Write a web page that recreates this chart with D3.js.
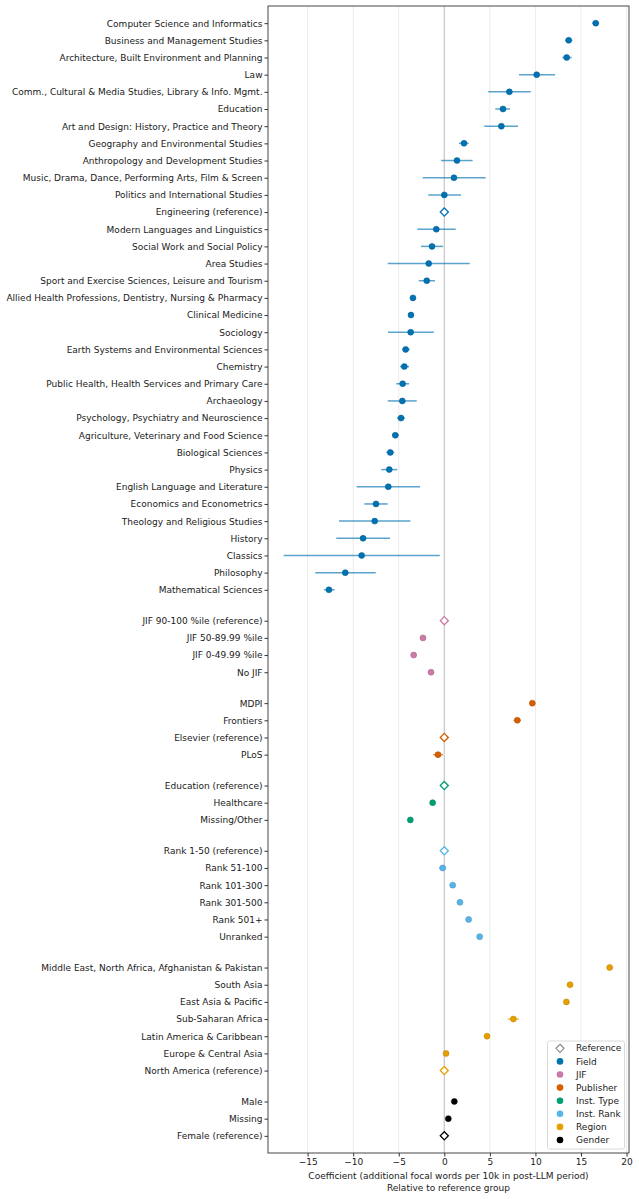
<!DOCTYPE html>
<html>
<head>
<meta charset="utf-8">
<script src="https://cdn.jsdelivr.net/npm/d3@7"></script>
<style>
  body { margin: 0; background: #fff; }
  text { font-family: "DejaVu Sans", sans-serif; }
</style>
</head>
<body>
<div id="chart"></div>
<script>
// --- data (null CI = reference category) ---
const fieldLabels = [
  "Computer Science and Informatics", "Business and Management Studies",
  "Architecture, Built Environment and Planning", "Law",
  "Comm., Cultural & Media Studies, Library & Info. Mgmt.", "Education",
  "Art and Design: History, Practice and Theory", "Geography and Environmental Studies",
  "Anthropology and Development Studies", "Music, Drama, Dance, Performing Arts, Film & Screen",
  "Politics and International Studies", "Engineering (reference)",
  "Modern Languages and Linguistics", "Social Work and Social Policy", "Area Studies",
  "Sport and Exercise Sciences, Leisure and Tourism",
  "Allied Health Professions, Dentistry, Nursing & Pharmacy", "Clinical Medicine",
  "Sociology", "Earth Systems and Environmental Sciences", "Chemistry",
  "Public Health, Health Services and Primary Care", "Archaeology",
  "Psychology, Psychiatry and Neuroscience", "Agriculture, Veterinary and Food Science",
  "Biological Sciences", "Physics", "English Language and Literature",
  "Economics and Econometrics", "Theology and Religious Studies", "History",
  "Classics", "Philosophy", "Mathematical Sciences"
];
const fieldEst = [16.62, 13.65, 13.43, 10.14, 7.14, 6.44, 6.26, 2.16, 1.39, 1.06, 0.0, 0,
  -0.88, -1.35, -1.71, -1.93, -3.44, -3.66, -3.69, -4.24, -4.39, -4.57, -4.61,
  -4.75, -5.38, -5.93, -6.04, -6.15, -7.5, -7.64, -8.92, -9.07, -10.87, -12.66];
const fieldLo = [16.25, 13.28, 12.95, 8.2, 4.83, 5.6, 4.39, 1.61, -0.36, -2.37, -1.76, null,
  -2.96, -2.56, -6.21, -2.81, -3.7, -3.9, -6.18, -4.64, -4.86, -5.27, -6.21,
  -5.19, -5.71, -6.37, -6.92, -9.62, -8.78, -11.56, -11.86, -17.63, -14.16, -13.21];
const fieldHi = [16.98, 14.05, 13.98, 12.15, 9.48, 7.21, 8.09, 2.67, 3.11, 4.54, 1.83, null,
  1.25, -0.14, 2.79, -1.02, -3.18, -3.4, -1.16, -3.8, -3.87, -3.87, -3.03,
  -4.31, -5.0, -5.49, -5.16, -2.67, -6.21, -3.73, -5.96, -0.5, -7.53, -12.03];

const jifLabels = ["JIF 90-100 %ile (reference)", "JIF 50-89.99 %ile", "JIF 0-49.99 %ile", "No JIF"];
const jifEst = [0, -2.34, -3.36, -1.46];
const jifLo = [null, -2.5, -3.55, -1.65];
const jifHi = [null, -2.18, -3.17, -1.27];

const pubLabels = ["MDPI", "Frontiers", "Elsevier (reference)", "PLoS"];
const pubEst = [9.66, 8.01, 0, -0.69];
const pubLo = [9.5, 7.6, null, -1.24];
const pubHi = [9.82, 8.42, null, -0.14];

const typeLabels = ["Education (reference)", "Healthcare", "Missing/Other"];
const typeEst = [0, -1.28, -3.73];
const typeLo = [null, -1.5, -3.88];
const typeHi = [null, -1.06, -3.58];

const rankLabels = ["Rank 1-50 (reference)", "Rank 51-100", "Rank 101-300", "Rank 301-500", "Rank 501+", "Unranked"];
const rankEst = [0, -0.18, 0.92, 1.72, 2.67, 3.88];
const rankLo = [null, -0.58, 0.67, 1.5, 2.42, 3.66];
const rankHi = [null, 0.22, 1.17, 1.94, 2.92, 4.1];

const regionLabels = ["Middle East, North Africa, Afghanistan & Pakistan", "South Asia", "East Asia & Pacific",
  "Sub-Saharan Africa", "Latin America & Caribbean", "Europe & Central Asia", "North America (reference)"];
const regionEst = [18.15, 13.8, 13.4, 7.58, 4.69, 0.19, 0];
const regionLo = [17.85, 13.5, 13.25, 6.95, 4.39, 0.07, null];
const regionHi = [18.45, 14.1, 13.55, 8.2, 4.99, 0.31, null];

const genderLabels = ["Male", "Missing", "Female (reference)"];
const genderEst = [1.1, 0.44, 0];
const genderLo = [1.0, 0.34, null];
const genderHi = [1.2, 0.54, null];

const groupNames = ["Field", "JIF", "Publisher", "Inst. Type", "Inst. Rank", "Region", "Gender"];
const groupColors = ["#0072B2", "#CC79A7", "#D55E00", "#009E73", "#56B4E9", "#E69F00", "#000000"];
const xTicks = [-15, -10, -5, 0, 5, 10, 15, 20];

const groups = [
  [fieldLabels, fieldEst, fieldLo, fieldHi],
  [jifLabels, jifEst, jifLo, jifHi],
  [pubLabels, pubEst, pubLo, pubHi],
  [typeLabels, typeEst, typeLo, typeHi],
  [rankLabels, rankEst, rankLo, rankHi],
  [regionLabels, regionEst, regionLo, regionHi],
  [genderLabels, genderEst, genderLo, genderHi]
];

// flatten rows, adding a 0.8 gap between groups
const rows = [];
let k = 0;
groups.forEach((grp, gi) => {
  grp[0].forEach((lab, i) => {
    rows.push({ label: lab, est: grp[1][i], lo: grp[2][i], hi: grp[3][i],
      ref: grp[2][i] === null, group: gi, pos: k + gi * 0.8 });
    k++;
  });
});

const W = 639, H = 1199;
const margin = { top: 6, right: 10, bottom: 46, left: 268 };

const svg = d3.select("#chart").append("svg")
  .attr("width", W).attr("height", H);

const x = d3.scaleLinear().domain([-19.35, 20.27]).range([margin.left, W - margin.right]);
const lastPos = d3.max(rows, d => d.pos);
const y = d3.scaleLinear().domain([-1, lastPos + 1]).range([margin.top, H - margin.bottom]);

// grid
svg.append("g").selectAll("line").data(xTicks).join("line")
  .attr("x1", d => x(d)).attr("x2", d => x(d))
  .attr("y1", margin.top).attr("y2", H - margin.bottom)
  .attr("stroke", "#e6e6e6").attr("stroke-width", 0.8);

// zero line
svg.append("line")
  .attr("x1", x(0)).attr("x2", x(0))
  .attr("y1", margin.top).attr("y2", H - margin.bottom)
  .attr("stroke", "#c8c8c8").attr("stroke-width", 1.2);

// error bars
svg.append("g").selectAll("line").data(rows.filter(d => !d.ref)).join("line")
  .attr("x1", d => x(d.lo)).attr("x2", d => x(d.hi))
  .attr("y1", d => y(d.pos)).attr("y2", d => y(d.pos))
  .attr("stroke", d => groupColors[d.group])
  .attr("stroke-opacity", 0.65)
  .attr("stroke-width", 1.5);

// points
svg.append("g").selectAll("circle").data(rows.filter(d => !d.ref)).join("circle")
  .attr("cx", d => x(d.est)).attr("cy", d => y(d.pos))
  .attr("r", 3)
  .attr("fill", d => groupColors[d.group])
  .attr("stroke", d => d3.color(groupColors[d.group]).darker(0.6))
  .attr("stroke-width", 0.5);

// reference diamonds
const diamond = d3.symbol().type(d3.symbolDiamond2).size(42);
svg.append("g").selectAll("path").data(rows.filter(d => d.ref)).join("path")
  .attr("d", diamond)
  .attr("transform", d => `translate(${x(d.est)},${y(d.pos)})`)
  .attr("fill", "#fff")
  .attr("stroke", d => groupColors[d.group])
  .attr("stroke-width", 1.3);

// axes
const xAxis = d3.axisBottom(x).tickValues(xTicks).tickSize(3.5).tickPadding(2)
  .tickFormat(d => d < 0 ? "\u2212" + Math.abs(d) : d);
const gx = svg.append("g").attr("transform", `translate(0,${H - margin.bottom})`).call(xAxis);
gx.select(".domain").remove();
gx.selectAll("text").attr("font-size", 9).attr("fill", "#1a1a1a").attr("font-family", "DejaVu Sans");
gx.selectAll("line").attr("stroke", "#333");

const yAxis = d3.axisLeft(y).tickValues(rows.map(d => d.pos)).tickSize(3.5).tickPadding(2)
  .tickFormat((d, i) => rows[i].label);
const gy = svg.append("g").attr("transform", `translate(${margin.left},0)`).call(yAxis);
gy.select(".domain").remove();
gy.selectAll("text").attr("font-size", 9).attr("fill", "#1a1a1a").attr("font-family", "DejaVu Sans");
gy.selectAll("line").attr("stroke", "#333");

// frame
svg.append("rect")
  .attr("x", margin.left).attr("y", margin.top)
  .attr("width", W - margin.right - margin.left)
  .attr("height", H - margin.bottom - margin.top)
  .attr("fill", "none").attr("stroke", "#333").attr("stroke-width", 0.9);

// x label
const cx = (margin.left + W - margin.right) / 2;
svg.append("text").attr("x", cx).attr("y", 1179)
  .attr("text-anchor", "middle").attr("font-size", 9).attr("fill", "#1a1a1a")
  .text("Coefficient (additional focal words per 10k in post-LLM period)");
svg.append("text").attr("x", cx).attr("y", 1190.5)
  .attr("text-anchor", "middle").attr("font-size", 9).attr("fill", "#1a1a1a")
  .text("Relative to reference group");

// legend
const leg = svg.append("g");
leg.append("rect")
  .attr("x", 547.5).attr("y", 1041).attr("width", 77).attr("height", 108)
  .attr("rx", 2).attr("fill", "#fff").attr("fill-opacity", 0.85)
  .attr("stroke", "#d0d0d0").attr("stroke-width", 0.8);
const legItems = [{ name: "Reference", color: null }].concat(
  groupNames.map((n, i) => ({ name: n, color: groupColors[i] })));
const ly = d3.scaleLinear().domain([0, 7]).range([1048.3, 1140]);
legItems.forEach((d, i) => {
  const yy = ly(i);
  if (d.color === null) {
    leg.append("path").attr("d", diamond)
      .attr("transform", `translate(560,${yy})`)
      .attr("fill", "#fff").attr("stroke", "#888").attr("stroke-width", 1.1);
  } else {
    leg.append("circle").attr("cx", 560).attr("cy", yy).attr("r", 3.3)
      .attr("fill", d.color);
  }
  leg.append("text").attr("x", 576).attr("y", yy).attr("dy", "0.35em")
    .attr("font-size", 9).attr("fill", "#1a1a1a").text(d.name);
});
</script>
</body>
</html>
